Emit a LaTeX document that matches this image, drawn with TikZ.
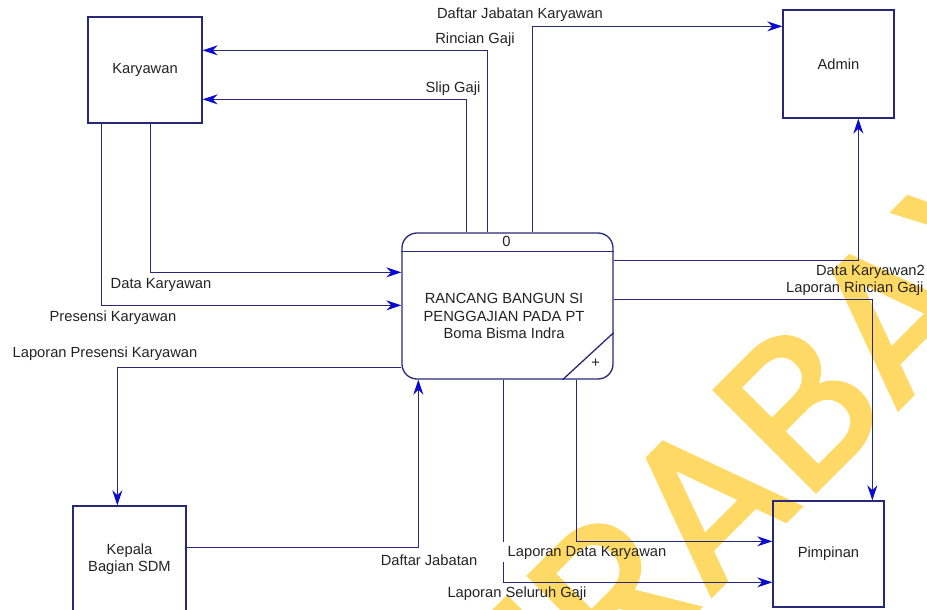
\documentclass[tikz,border=0pt]{standalone}
\usepackage{fontspec}
\setmainfont{Liberation Sans}
\newfontfamily\wmfont[FakeBold=2]{Poppins}
\usetikzlibrary{arrows.meta,calc}
\definecolor{navy}{RGB}{40,40,120}
\definecolor{tipblue}{RGB}{10,10,210}
\definecolor{txt}{RGB}{35,35,35}
\definecolor{wm}{RGB}{255,217,102}
\tikzset{
  ent/.style={draw=navy,line width=1.3pt,fill=none,inner sep=0pt,text=txt,align=center},
  procbox/.style={draw=navy,line width=1.3pt,rounded corners=15pt,inner sep=0pt},
  flow/.style={draw=navy,line width=1.3pt,-{Stealth[length=15pt,width=10pt,inset=5pt,color=tipblue]}},
  ln/.style={draw=navy,line width=1.3pt},
  lbl/.style={text=txt,inner sep=0pt},
}
\begin{document}
\begin{tikzpicture}[x=1pt,y=-1pt,font=\fontsize{14.7}{17.5}\selectfont]
\useasboundingbox (0,0) rectangle (927,610);
\fill[white] (0,0) rectangle (927,610);
% watermark
\node[text=wm, anchor=base west, rotate=45, inner sep=0pt, font=\wmfont\fontsize{205}{205}\selectfont] (wmark) at (707,600) {\llap{SUR}ABAYA};
% entities
\node[ent, minimum width=114pt, minimum height=106pt] (kar) at (145,70) {Karyawan};
\node[ent, minimum width=111pt, minimum height=108pt] (adm) at (838.5,64) {Admin};
\node[ent, minimum width=111pt, minimum height=106pt] (pim) at (828.5,554) {Pimpinan};
\node[ent, minimum width=113pt, minimum height=106pt] (kep) at (129.5,559) {Kepala\\Bagian SDM};
% process
\node[procbox, minimum width=211pt, minimum height=146pt] (proc) at (507.5,306) {};
\draw[ln] ($(proc.north west)+(0,19)$) -- ($(proc.north east)+(0,19)$);
\node[lbl] (pnum) at ($(proc.north)+(-1,9)$) {0};
\node[lbl, align=center] (ptext) at (504,316) {RANCANG BANGUN SI\\PENGGAJIAN PADA PT\\Boma Bisma Indra};
\draw[ln] ($(proc.south east)+(-51,0)$) coordinate (dg1) -- ($(proc.south east)+(0,-47)$) coordinate (dg2);
\node[lbl] (plus) at ($(proc.south east)+(-18,-16)$) {+};
% flows
\draw[flow] ($(proc.north west)+(86,0)$) |- ($(kar.north east)+(0,34)$);
\draw[flow] ($(proc.north west)+(65,0)$) |- ($(kar.north east)+(0,83)$);
\draw[flow] ($(proc.north west)+(131,0)$) |- ($(adm.north west)+(0,17)$);
\draw[flow] ($(proc.north east)+(0,28)$) -| ($(adm.south west)+(76,0)$);
\draw[flow] ($(proc.north east)+(0,67)$) -| ($(pim.north west)+(100,0)$);
\draw[flow] ($(kar.south west)+(63,0)$) |- ($(proc.north west)+(0,40)$);
\draw[flow] ($(kar.south west)+(14,0)$) |- ($(proc.north west)+(0,73)$);
\draw[flow] ($(proc.south west)+(0,-12)$) -| ($(kep.north west)+(45,0)$);
\draw[flow] ($(kep.north east)+(0,42)$) -| ($(proc.south west)+(17,0)$);
\draw[flow] ($(proc.south west)+(175,0)$) |- ($(pim.north west)+(0,41)$);
\draw[flow] ($(proc.south west)+(102,0)$) |- ($(pim.north west)+(0,82)$);
\fill[white] (501,542) rectangle (507,562);
% labels
\node[lbl] (l1) at (520,15) {Daftar Jabatan Karyawan};
\node[lbl] (l2) at (475,40) {Rincian Gaji};
\node[lbl] (l3) at (453,89) {Slip Gaji};
\node[lbl] (l4) at (161,285) {Data Karyawan};
\node[lbl] (l5) at (113,318) {Presensi Karyawan};
\node[lbl] (l6) at (105,354) {Laporan Presensi Karyawan};
\node[lbl, anchor=east] (l7) at (925,272) {Data Karyawan2};
\node[lbl, anchor=west] (l8) at (786,289) {Laporan Rincian Gaji};
\node[lbl] (l9) at (429,560) {Daftar Jabatan};
\node[lbl] (l10) at (587,553) {Laporan Data Karyawan};
\node[lbl] (l11) at (517,594) {Laporan Seluruh Gaji};
\end{tikzpicture}
\end{document}
